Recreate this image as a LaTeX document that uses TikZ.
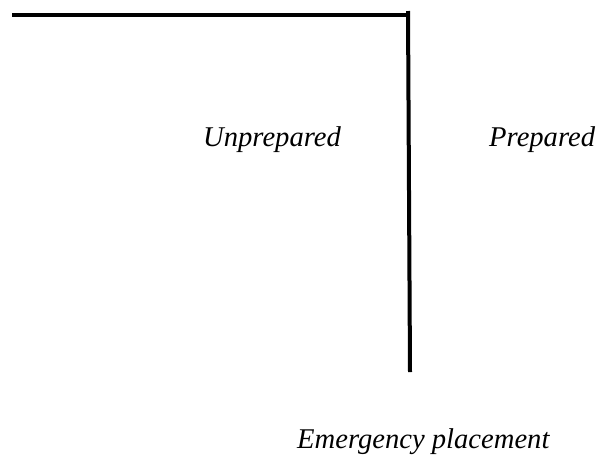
\documentclass[tikz,border=0pt]{standalone}
\usepackage{fontspec}
\setmainfont{Liberation Serif}
\begin{document}
\begin{tikzpicture}[x=1pt,y=-1pt,
  rule/.style={line width=4pt, black},
  label/.style={inner sep=0pt, anchor=base west, font=\fontsize{28.6}{32}\selectfont\itshape}]
  \useasboundingbox (0,0) rectangle (607,464);
  % the two ruling lines
  \coordinate (hl) at (12,15);
  \coordinate (hr) at (408,15);
  \coordinate (vt) at (408,11);
  \coordinate (vb) at (410,372);
  \draw[rule] (hl) -- (hr);
  \draw[rule] (vt) -- (vb);
  % labels
  \node[label] (unprep) at (203,146) {Unprepared};
  \node[label] (prep) at (489,146) {Prepared};
  \node[label] (emerg) at (297,448) {Emergency placement};
\end{tikzpicture}
\end{document}
